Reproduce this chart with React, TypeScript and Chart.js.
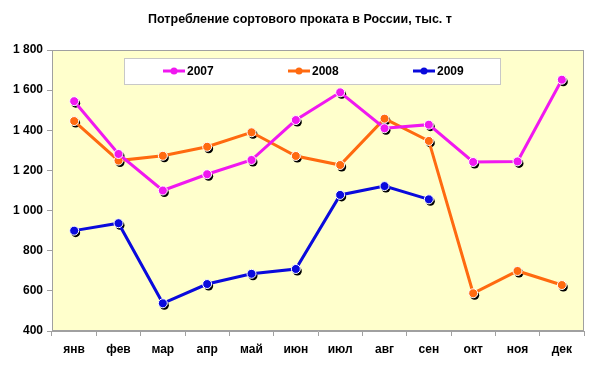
import React, { useEffect, useRef } from "react";
import { Chart, registerables } from "chart.js";

Chart.register(...registerables);

const months = ["янв", "фев", "мар", "апр", "май", "июн", "июл", "авг", "сен", "окт", "ноя", "дек"];
const series2007 = [1545, 1282, 1100, 1181, 1252, 1451, 1589, 1410, 1428, 1242, 1245, 1652];
const series2008 = [1446, 1249, 1273, 1318, 1390, 1272, 1227, 1458, 1347, 588, 699, 629];
const series2009 = [900, 937, 538, 634, 685, 709, 1078, 1122, 1056, null, null, null];
const seriesNames = ["2007", "2008", "2009"];
const seriesColors = ["#F018F0", "#FF6A10", "#0A0ADC"];
const titleText = "Потребление сортового проката в России, тыс. т";

const FONT = "'Liberation Sans', Arial, sans-serif";

const decorPlugin = {
  id: "decor",
  beforeDraw(chart: any) {
    const { ctx, chartArea: a } = chart;
    ctx.save();
    ctx.fillStyle = "#FFFFCC";
    ctx.fillRect(a.left, a.top, a.right - a.left, a.bottom - a.top);
    ctx.restore();
  },
  beforeDatasetsDraw(chart: any) {
    const { ctx } = chart;
    ctx.save();
    ctx.fillStyle = "#000000";
    chart.data.datasets.forEach((_: any, i: number) => {
      const meta = chart.getDatasetMeta(i);
      meta.data.forEach((pt: any, j: number) => {
        if (chart.data.datasets[i].data[j] == null) return;
        ctx.beginPath();
        ctx.arc(pt.x + 1.5, pt.y + 2, 4.5, 0, Math.PI * 2);
        ctx.fill();
      });
    });
    ctx.restore();
  },
  afterDraw(chart: any) {
    const { ctx, chartArea: a } = chart;
    ctx.save();
    // plot border
    ctx.strokeStyle = "#A0A0A0";
    ctx.lineWidth = 1;
    ctx.strokeRect(a.left + 0.5, a.top + 0.5, a.right - a.left - 1, a.bottom - a.top - 1);
    // title
    ctx.fillStyle = "#000";
    ctx.font = `bold 12.5px ${FONT}`;
    ctx.textAlign = "center";
    ctx.textBaseline = "middle";
    ctx.fillText(titleText, 300, 20);
    // legend
    const lx = 124, ly = 58, lw = 376, lh = 26;
    ctx.fillStyle = "#FFFFFF";
    ctx.fillRect(lx, ly, lw, lh);
    ctx.strokeStyle = "#C8C8C8";
    ctx.strokeRect(lx + 0.5, ly + 0.5, lw, lh);
    const starts = [163, 288, 413];
    const cy = ly + lh / 2;
    seriesNames.forEach((name, i) => {
      const x0 = starts[i];
      ctx.strokeStyle = seriesColors[i];
      ctx.lineWidth = 3;
      ctx.beginPath();
      ctx.moveTo(x0, cy);
      ctx.lineTo(x0 + 22, cy);
      ctx.stroke();
      ctx.fillStyle = seriesColors[i];
      ctx.beginPath();
      ctx.arc(x0 + 11, cy, 3.5, 0, Math.PI * 2);
      ctx.fill();
      ctx.fillStyle = "#000";
      ctx.font = `bold 12px ${FONT}`;
      ctx.textAlign = "left";
      ctx.fillText(name, x0 + 24, cy + 1);
    });
    ctx.restore();
  },
};

export default function App() {
  const ref = useRef<HTMLCanvasElement>(null);
  useEffect(() => {
    document.body.style.margin = "0";
    const canvas = ref.current!;
    const mk = (label: string, data: (number | null)[], color: string) => ({
      label,
      data,
      borderColor: color,
      backgroundColor: color,
      borderWidth: 3,
      pointRadius: 4.5,
      pointBorderColor: "#FFFFFF",
      pointBorderWidth: 1,
      pointBackgroundColor: color,
      tension: 0,
      spanGaps: false,
    });
    const chart = new Chart(canvas, {
      type: "line",
      data: {
        labels: months,
        datasets: [
          mk(seriesNames[0], series2007, seriesColors[0]),
          mk(seriesNames[1], series2008, seriesColors[1]),
          mk(seriesNames[2], series2009, seriesColors[2]),
        ],
      },
      options: {
        responsive: false,
        animation: false,
        layout: { padding: { top: 50, right: 16, bottom: 0, left: 0 } },
        plugins: { legend: { display: false }, title: { display: false }, tooltip: { enabled: false } },
        scales: {
          x: {
            offset: true,
            grid: { display: true, drawOnChartArea: false, drawTicks: true, tickLength: 5, color: "#A0A0A0", offset: true },
            border: { color: "#A0A0A0" },
            ticks: { color: "#000", font: { family: FONT, size: 12, weight: "bold" }, padding: 6 },
            afterFit: (s: any) => { s.height = 38; },
          },
          y: {
            min: 400,
            max: 1800,
            grid: { display: true, drawOnChartArea: false, drawTicks: true, tickLength: 5, color: "#A0A0A0" },
            border: { color: "#A0A0A0" },
            ticks: {
              stepSize: 200,
              color: "#000",
              font: { family: FONT, size: 12, weight: "bold" },
              padding: 4,
              callback: (v: any) => {
                const n = Number(v);
                return n >= 1000 ? `${Math.floor(n / 1000)} ${String(n % 1000).padStart(3, "0")}` : String(n);
              },
            },
            afterFit: (s: any) => { s.width = 52; },
          },
        },
      },
      plugins: [decorPlugin],
    });
    return () => chart.destroy();
  }, []);
  return (
    <div style={{ width: 600, height: 369 }}>
      <canvas ref={ref} width={600} height={369} style={{ display: "block" }} />
    </div>
  );
}
